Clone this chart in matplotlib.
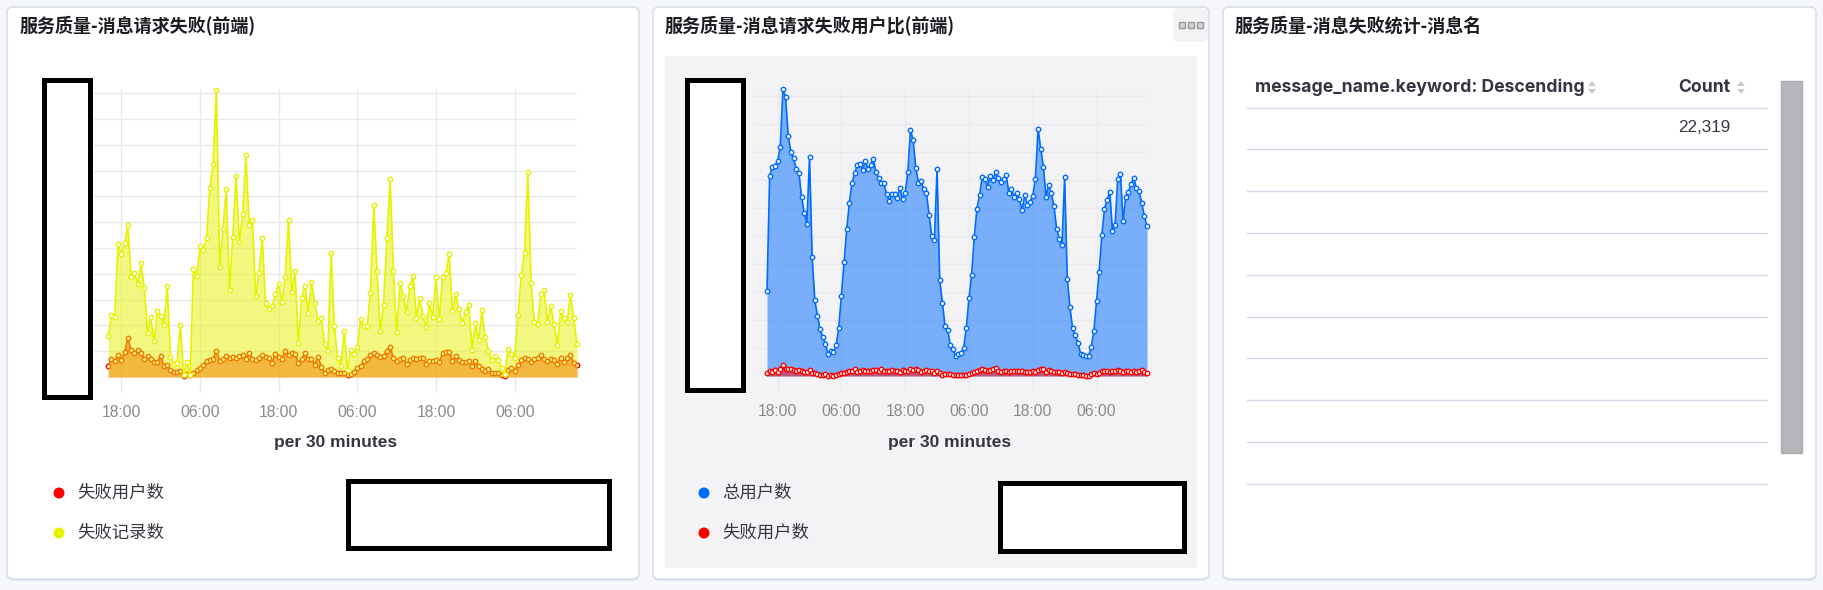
import matplotlib
matplotlib.use("Agg")
import matplotlib.pyplot as plt
import matplotlib.dates as mdates
from matplotlib.patches import FancyBboxPatch, Rectangle, Circle, Polygon
from matplotlib.lines import Line2D
from matplotlib.transforms import IdentityTransform
import pandas as pd

# ---- data (30 minute buckets) ----
START = "2021-06-07 16:00"

# 失败用户数 (shared by both charts)
fail_users = [
    22, 35, 31, 43, 32, 48, 75, 52, 47, 52,
    46, 35, 40, 34, 29, 29, 41, 21, 24, 14,
    10, 10, 11, 1, 5, 3, 8, 13, 18, 24,
    31, 33, 34, 51, 31, 34, 41, 36, 39, 37,
    40, 42, 34, 47, 35, 33, 37, 42, 39, 36,
    28, 44, 39, 34, 51, 42, 47, 44, 28, 35,
    46, 35, 34, 24, 39, 20, 8, 13, 16, 11,
    8, 8, 7, 4, 5, 9, 17, 21, 31, 34,
    43, 47, 42, 38, 41, 51, 59, 36, 31, 35,
    37, 25, 33, 36, 34, 37, 37, 26, 31, 31,
    33, 29, 46, 48, 49, 31, 40, 33, 29, 29,
    31, 22, 31, 21, 15, 11, 15, 7, 8, 8,
    3, 2, 13, 18, 12, 23, 33, 37, 35, 30,
    34, 36, 42, 35, 31, 35, 33, 26, 36, 30,
    36, 42, 27, 24,
]

# 失败记录数
fail_records = [
    80, 120, 117, 258, 239, 259, 294, 193, 202, 180,
    220, 173, 86, 116, 69, 127, 118, 100, 177, 38,
    25, 27, 101, 3, 30, 4, 209, 195, 253, 247,
    270, 367, 412, 557, 214, 286, 365, 168, 271, 390,
    261, 315, 430, 294, 305, 157, 202, 270, 144, 132,
    137, 160, 180, 146, 194, 305, 164, 206, 65, 153,
    177, 124, 185, 144, 109, 115, 63, 51, 241, 98,
    36, 22, 89, 14, 53, 44, 58, 112, 98, 98,
    163, 334, 206, 89, 140, 270, 383, 206, 87, 182,
    157, 126, 176, 196, 115, 154, 119, 96, 143, 116,
    193, 112, 193, 201, 239, 127, 160, 131, 104, 126,
    140, 53, 104, 71, 129, 77, 51, 33, 40, 32,
    17, 6, 55, 45, 36, 120, 198, 241, 397, 182,
    107, 102, 161, 168, 106, 138, 103, 62, 127, 115,
    107, 159, 114, 64,
]

# 总用户数
total_users = [
    604, 1430, 1490, 1502, 1532, 1636, 2048, 1990, 1712, 1600,
    1554, 1478, 1452, 1280, 1166, 1088, 1560, 846, 540, 430,
    332, 276, 230, 154, 180, 168, 218, 342, 574, 810,
    1046, 1238, 1378, 1448, 1506, 1514, 1468, 1536, 1478, 1508,
    1552, 1454, 1410, 1378, 1376, 1296, 1252, 1296, 1296, 1268,
    1344, 1262, 1308, 1454, 1758, 1682, 1484, 1380, 1388, 1334,
    1304, 1150, 1000, 972, 1476, 686, 524, 354, 326, 218,
    192, 144, 160, 162, 200, 342, 554, 722, 992, 1194,
    1292, 1418, 1406, 1352, 1430, 1400, 1454, 1416, 1384, 1406,
    1434, 1308, 1332, 1280, 1308, 1262, 1182, 1292, 1220, 1244,
    1286, 1406, 1764, 1622, 1494, 1278, 1364, 1304, 1210, 1050,
    980, 932, 1418, 694, 492, 340, 290, 236, 160, 150,
    140, 140, 206, 320, 532, 744, 1004, 1192, 1254, 1316,
    1038, 1080, 1406, 1442, 1106, 1280, 1314, 1370, 1416, 1338,
    1318, 1236, 1142, 1068,
]

table_columns = ["message_name.keyword: Descending", "Count"]
table_counts = ["22,319"]

panel_titles = ["服务质量-消息请求失败(前端)", "服务质量-消息请求失败用户比(前端)",
                "服务质量-消息失败统计-消息名"]
left_series = ["失败用户数", "失败记录数"]
mid_series = ["总用户数", "失败用户数"]

# ---- styling ----
W, H = 1823, 590
DPI = 100
RED = "#ff0000"
YELLOW = "#e6f200"
BLUE = "#006bff"
GRID = "#e9e9ec"
BORDER = "#d3dae6"
CJK = ["Noto Sans CJK SC", "DejaVu Sans"]
PX = IdentityTransform()

fig = plt.figure(figsize=(W / DPI, H / DPI), dpi=DPI, facecolor="#f5f7fa")


def fr(x0, y0, x1, y1):
    # pixel box (top-left origin) -> figure fraction rect
    return [x0 / W, 1 - y1 / H, (x1 - x0) / W, (y1 - y0) / H]


def box(x0, y0, x1, y1, fc, ec="none", lw=1, r=0, z=0):
    style = f"round,pad=0,rounding_size={r}" if r else "square,pad=0"
    p = FancyBboxPatch((x0, H - y1), x1 - x0, y1 - y0, boxstyle=style,
                       fc=fc, ec=ec, lw=lw, transform=PX, zorder=z)
    fig.add_artist(p)


def txt(x, y, s, **kw):
    fig.text(x / W, 1 - y / H, s, **kw)


def hline(x0, x1, y, color=BORDER, lw=1):
    fig.add_artist(Line2D([x0, x1], [H - y, H - y], color=color, lw=lw, transform=PX))


def redact(x0, y0, x1, y1, t=5):
    fig.add_artist(Rectangle((x0 + t / 2, H - y1 + t / 2), x1 - x0 - t, y1 - y0 - t,
                             fc="white", ec="black", lw=t * 72 / DPI, transform=PX, zorder=5))


def legend_dot(x, y, color, label):
    fig.add_artist(Circle((x, H - y), 5.5, fc=color, ec="none", transform=PX))
    txt(x + 18, y, label, family=CJK, fontsize=12.5, color="#343741", va="center")


# panels
for x0, x1 in [(7, 639), (653, 1209), (1223, 1816)]:
    box(x0, 9, x1, 581, "#e4e8f0", r=6)
    box(x0, 7, x1, 579, "white", BORDER, lw=1, r=6)
box(665, 56, 1197, 568, "#f3f3f6")
box(1173, 8, 1208, 42, "#f1f3f4", r=6)
for cx in [1182, 1191, 1200]:
    box(cx - 3, 22, cx + 3, 28, "#d2d3d6", "#9a9a9a", lw=1)

for x, title in zip([20, 665, 1235], panel_titles):
    txt(x, 26, title, family=CJK, fontsize=13, fontweight="bold", color="#1a1c21", va="center")

times = pd.date_range(START, periods=len(fail_users), freq="30min")


def style_axis(ax, ymax, ystep, pad_min):
    ax.set_facecolor("none")
    ax.set_xlim(times[0] - pd.Timedelta(minutes=pad_min), times[-1])
    ax.set_ylim(0, ymax)
    ax.set_yticks(range(0, int(ymax) + 1, ystep))
    ax.xaxis.set_major_locator(mdates.HourLocator(byhour=[6, 18]))
    ax.xaxis.set_major_formatter(mdates.DateFormatter("%H:%M"))
    ax.tick_params(axis="x", length=11, width=1, color=GRID, labelsize=11.3,
                   labelcolor="#8a8a8a", pad=9.5)
    ax.tick_params(axis="y", length=0, labelleft=False)
    for lab in ax.get_xticklabels():
        lab.set_family("Liberation Sans")
    ax.grid(True, color=GRID, lw=1)
    ax.set_axisbelow(True)
    for s in ax.spines.values():
        s.set_visible(False)


def series(ax, y, color, z):
    ax.fill_between(times, y, color=color, alpha=0.5, lw=0, zorder=z)
    ax.plot(times, y, color=color, lw=1.2, marker="o", ms=3.2, mfc="white",
            mec=color, mew=1, zorder=z + 0.5, clip_on=False)


# left chart: 失败用户数 / 失败记录数
ax1 = fig.add_axes(fr(94, 89, 577, 377))
style_axis(ax1, 558, 50, 130)
series(ax1, fail_users, RED, 2)
series(ax1, fail_records, YELLOW, 3)
txt(336, 442, "per 30 minutes", family="Liberation Sans", fontsize=12.5,
    fontweight="bold", color="#343741", ha="center", va="center")
legend_dot(59, 493, RED, left_series[0])
legend_dot(59, 533, YELLOW, left_series[1])
redact(41, 77, 92, 399)
redact(345, 478, 611, 550)

# middle chart: 总用户数 / 失败用户数
ax2 = fig.add_axes(fr(753, 89, 1147, 376))
style_axis(ax2, 2048, 200, 158)
series(ax2, total_users, BLUE, 2)
series(ax2, fail_users, RED, 3)
txt(950, 442, "per 30 minutes", family="Liberation Sans", fontsize=12.5,
    fontweight="bold", color="#343741", ha="center", va="center")
legend_dot(704, 493, BLUE, mid_series[0])
legend_dot(704, 533, RED, mid_series[1])
redact(684, 77, 745, 392)
redact(997, 480, 1186, 553)

# right panel: table
txt(1255, 87, table_columns[0], family="Inter", fontsize=12.7, fontweight="bold",
    color="#343741", va="center")
txt(1678, 87, table_columns[1], family="Inter", fontsize=12.7, fontweight="bold",
    color="#343741", va="center")
for cx in [1592, 1741]:
    fig.add_artist(Polygon([(cx - 4, H - 86), (cx + 4, H - 86), (cx, H - 81)],
                           fc="#c6cbd4", ec="none", transform=PX))
    fig.add_artist(Polygon([(cx - 4, H - 89), (cx + 4, H - 89), (cx, H - 94)],
                           fc="#c6cbd4", ec="none", transform=PX))
for i, c in enumerate(table_counts):
    txt(1678, 128 + i * 42, c, family="Liberation Sans", fontsize=12.3,
        color="#343741", va="center")
for k in range(10):
    hline(1247, 1767, 107.5 + k * 41.8)
box(1781, 81, 1802, 453, "#b4b6ba", "#a9abb0")

fig.savefig("out.png", dpi=DPI, facecolor=fig.get_facecolor())
